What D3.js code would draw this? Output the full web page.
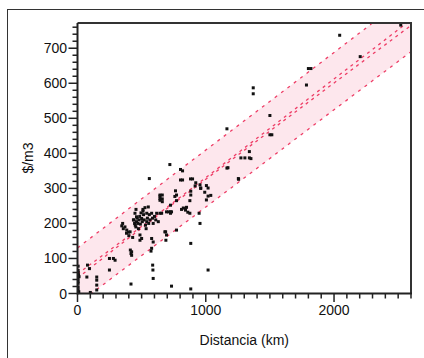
<!DOCTYPE html>
<html><head><meta charset="utf-8">
<script src="https://cdn.jsdelivr.net/npm/d3@7"></script>
<style>body{margin:0;background:#fff}svg{display:block}text{font-family:"Liberation Sans",Arial,sans-serif}</style>
</head><body><svg id="c" width="424" height="358"></svg>
<script>
// Data
const distKm = [5,5,5,8,5,5,5,5,5,10,5,12,78,93,73,150,150,150,150,100,249,293,249,417,412,417,
 352,345,357,370,384,397,410,382,400,422,422,430,448,440,445,450,455,460,465,470,475,480,485,490,495,500,505,510,515,520,526,530,535,540,545,552,555,560,560,565,578,585,590,600,610,617,630,643,656,
 643,643,643,643,661,661,661,681,694,689,687,694,710,733,725,725,725,764,772,759,772,772,720,803,819,803,819,881,897,922,917,961,1005,1018,883,883,876,992,1018,1005,1039,811,825,840,850,842,860,876,948,955,883,733,883,1018,586,588,590,487,500,487,578,590,578,573,280,456,436,460,511,540,955,960,
 1165,1165,1173,1254,1256,1274,1305,1340,1352,1340,1370,1370,1500,1500,1515,1785,1800,1820,2044,2204,2520];
const precio = [78,66,55,52,43,35,29,19,11,5,60,48,81,71,47,47,38,24,10,3,100,95,67,27,124,114,
 200,193,185,190,181,175,176,172,165,119,109,160,229,210,200,195,190,205,215,200,185,210,220,198,230,214,205,240,225,210,245,195,185,205,215,247,200,328,225,210,229,215,200,220,210,229,205,229,229,
 281,271,266,278,281,270,262,176,167,152,176,233,233,233,252,233,229,293,281,277,265,181,368,354,350,324,324,327,327,316,307,301,308,301,292,281,265,289,278,267,280,240,244,242,246,238,232,229,229,200,143,21,13,67,81,67,43,167,157,152,157,147,129,121,100,240,210,219,235,229,310,300,
 470,358,359,328,326,387,387,387,385,405,587,570,508,453,453,595,642,642,737,676,766];
// Fit bands
const bandX = [0,600,1200,1800,2600];
const piUpper = [130,298,465,632,856];
const piLower = [-30,136,302,469,690];
const ciUpper = [56,219,387,556,781];
const ciLower = [44,215,381,546,765];
const xTicks = [0,1000,2000];
const yTicks = [0,100,200,300,400,500,600,700];

const svg = d3.select("#c");
const L=77.5, R=411, T=23, B=293.5;
const x = d3.scaleLinear().domain([0,2600]).range([L,R]);
const y = d3.scaleLinear().domain([0,772]).range([B,T]);

// outer frame
svg.append("rect").attr("x",7.5).attr("y",9.5).attr("width",600).attr("height",600)
  .attr("fill","none").attr("stroke","#333").attr("stroke-width",1);

svg.append("clipPath").attr("id","clip").append("rect")
  .attr("x",L).attr("y",T).attr("width",R-L).attr("height",B-T);
const g = svg.append("g").attr("clip-path","url(#clip)");

const bandData = bandX.map((d,i)=>({x:d,pu:piUpper[i],pl:piLower[i],cu:ciUpper[i],cl:ciLower[i]}));
g.append("path").datum(bandData)
  .attr("d",d3.area().x(d=>x(d.x)).y0(d=>y(d.pl)).y1(d=>y(d.pu)).curve(d3.curveMonotoneX))
  .attr("fill","#fde7ed");

const lineCol="#ee3d66";
["pu","pl","cu","cl"].forEach(k=>{
  g.append("path").datum(bandData)
   .attr("d",d3.line().x(d=>x(d.x)).y(d=>y(d[k])).curve(d3.curveMonotoneX))
   .attr("fill","none").attr("stroke",lineCol).attr("stroke-width",1.3)
   .attr("stroke-dasharray",k[0]==="c"?"3,4":"3,5");
});

// points
const pts = distKm.map((d,i)=>[d,precio[i]]);
g.selectAll("rect.pt").data(pts).enter().append("rect").attr("class","pt")
  .attr("x",d=>x(d[0])-1.5).attr("y",d=>y(d[1])-1.5).attr("width",3).attr("height",3)
  .attr("fill","#111");

// plot frame top/right
svg.append("path").attr("d",`M${L},${T}H${R}V${B}`).attr("fill","none")
  .attr("stroke","#333").attr("stroke-width",2);

// x axis
const xa = svg.append("g").attr("transform",`translate(0,${B})`);
xa.append("line").attr("x1",L).attr("x2",R+1).attr("stroke","#222").attr("stroke-width",2);
xa.selectAll("line.mn").data(d3.range(0,2601,100)).enter().append("line")
  .attr("x1",d=>x(d)).attr("x2",d=>x(d)).attr("y1",0).attr("y2",d=>xTicks.includes(d)?8.5:5)
  .attr("stroke","#222").attr("stroke-width",1.5);
xa.selectAll("text").data(xTicks).enter().append("text")
  .attr("x",d=>x(d)).attr("y",21).attr("text-anchor","middle")
  .attr("font-size",14).attr("fill","#111").text(d=>d);

// y axis
const ya = svg.append("g").attr("transform",`translate(${L},0)`);
ya.append("line").attr("y1",T).attr("y2",B+1).attr("stroke","#222").attr("stroke-width",2);
ya.selectAll("line.mn").data(d3.range(0,773,20)).enter().append("line")
  .attr("y1",d=>y(d)).attr("y2",d=>y(d)).attr("x1",0).attr("x2",d=>d%100===0?-9:-5)
  .attr("stroke","#222").attr("stroke-width",1.5);
ya.selectAll("text").data(yTicks).enter().append("text")
  .attr("x",-10.5).attr("y",d=>y(d)+5).attr("text-anchor","end")
  .attr("font-size",14).attr("fill","#111").text(d=>d);

// labels
svg.append("text").attr("x",(L+R)/2).attr("y",345).attr("text-anchor","middle")
  .attr("font-size",14).attr("fill","#111").text("Distancia (km)");
svg.append("text").attr("transform","translate(33,158) rotate(-90)").attr("text-anchor","middle")
  .attr("font-size",14).attr("fill","#111").text("$/m3");
</script></body></html>
